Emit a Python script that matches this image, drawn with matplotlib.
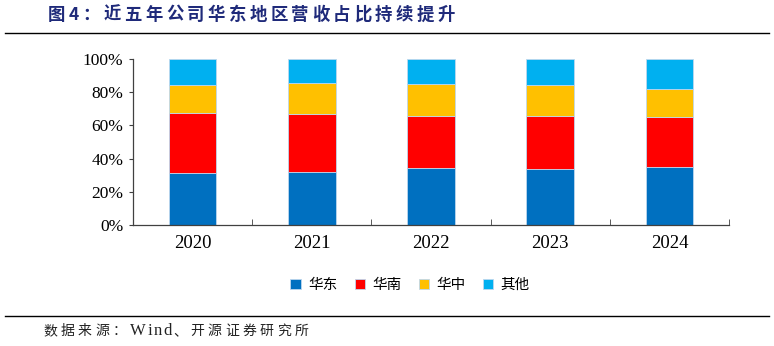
import matplotlib.pyplot as plt
import numpy as np
from matplotlib.ticker import FixedLocator, PercentFormatter

plt.rcParams['font.family'] = ['Liberation Serif', 'Noto Sans CJK SC', 'DejaVu Sans']

years = ["2020", "2021", "2022", "2023", "2024"]
huadong = [31.1, 32.1, 34.3, 33.9, 34.8]
huanan = [36.6, 35.0, 31.4, 31.6, 30.1]
huazhong = [16.6, 18.4, 19.0, 18.6, 17.0]
qita = [15.7, 14.5, 15.3, 15.9, 18.1]

names = ["华东", "华南", "华中", "其他"]
colors = ["#0070C0", "#FF0000", "#FFC000", "#00B0F0"]

title = "图4：近五年公司华东地区营收占比持续提升"
source = ["数据来源：", "Wind", "、开源证券研究所"]


def spaced_text(fig, x_px, y, text, gap_px, **kw):
    """draw text char by char with extra letter spacing (x in pixels)"""
    renderer = fig.canvas.get_renderer()
    W = fig.bbox.width
    for ch in text:
        t = fig.text(x_px / W, y, ch, **kw)
        w = t.get_window_extent(renderer).width
        x_px += w + gap_px
    return x_px


fig = plt.figure(figsize=(7.74, 3.46), dpi=100)
ax = fig.add_axes([0.1718, 0.3497, 0.7701, 0.4798])

x = np.arange(len(years))
bottom = np.zeros(len(years))
for vals, name, c in zip([huadong, huanan, huazhong, qita], names, colors):
    ax.bar(x, vals, width=0.40, bottom=bottom, color=c, label=name,
           edgecolor="#BDD7EE", linewidth=0.6)
    bottom += np.array(vals)

ax.set_xlim(-0.5, len(years) - 0.5)
ax.set_ylim(0, 100)
ax.set_yticks(range(0, 101, 20))
ax.yaxis.set_major_formatter(PercentFormatter(decimals=0))
ax.set_xticks(x)
ax.set_xticklabels(years)
ax.xaxis.set_minor_locator(FixedLocator(np.arange(-0.5, len(years), 1.0)))
ax.tick_params(axis="x", which="major", length=0, pad=7, labelsize=13.5)
ax.tick_params(axis="x", which="minor", direction="in", length=4, color="#404040")
ax.tick_params(axis="y", direction="out", length=3, color="#404040", labelsize=12.5, pad=4)

for s in ["top", "right"]:
    ax.spines[s].set_visible(False)
for s in ["left", "bottom"]:
    ax.spines[s].set_color("#404040")
    ax.spines[s].set_linewidth(0.9)

leg = fig.legend(loc="center", bbox_to_anchor=(0.53, 0.176), ncol=4, frameon=False,
                 handlelength=0.7, handleheight=0.7, handletextpad=0.5, columnspacing=1.2,
                 prop={"family": "Noto Sans CJK SC", "size": 10.5})

spaced_text(fig, 48, 0.958, title, 3.5, fontsize=12.5, fontweight="bold",
            color="#1F2A7A", family=["Noto Sans CJK SC"], va="center", ha="left")
fig.add_artist(plt.Line2D([0.006, 0.994], [0.905, 0.905], color="black", linewidth=1.0))
fig.add_artist(plt.Line2D([0.006, 0.994], [0.087, 0.087], color="black", linewidth=1.0))

px = 43
px = spaced_text(fig, px, 0.043, source[0], 3.5, fontsize=10, color="#222222",
                 family=["Noto Sans CJK SC"], va="center", ha="left")
px = spaced_text(fig, px, 0.043, source[1], 1.5, fontsize=12, color="#222222",
                 family=["Liberation Serif"], va="center", ha="left")
spaced_text(fig, px, 0.043, source[2], 3.5, fontsize=10, color="#222222",
            family=["Noto Sans CJK SC"], va="center", ha="left")

fig.savefig("out.png", dpi=100)
